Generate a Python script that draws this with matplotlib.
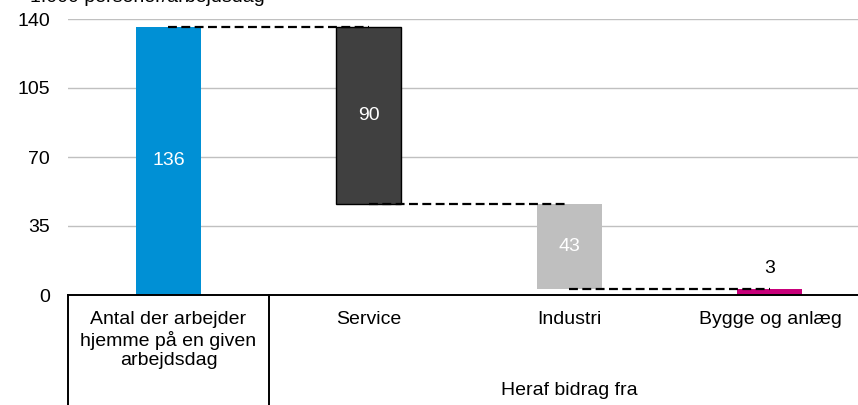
import numpy as np
import matplotlib.pyplot as plt
from matplotlib.lines import Line2D

plt.rcParams['font.family'] = ['Liberation Sans', 'DejaVu Sans']

# data
categories = ["Antal der arbejder\nhjemme på en given\narbejdsdag", "Service", "Industri", "Bygge og anlæg"]
values = [136, 90, 43, 3]
colors = ["#0090d5", "#404040", "#bfbfbf", "#c8007a"]
label_colors = ["white", "white", "white", "black"]
yticks = [0, 35, 70, 105, 140]
group_label = "Heraf bidrag fra"
unit_label = "1.000 personer/arbejdsdag"

# waterfall: total first, then the parts stepping down
tops = [values[0]]
bottoms = [0]
level = values[0]
for v in values[1:]:
    tops.append(level)
    level -= v
    bottoms.append(level)

fs = 14
fig = plt.figure(figsize=(8.58, 4.05), dpi=100)
ax = fig.add_axes([68 / 858, 110 / 405, 790 / 858, 276 / 405])

x = np.arange(len(values))
w = 0.324
for i in x:
    edge = "black" if i == 1 else colors[i]
    ax.bar(i, tops[i] - bottoms[i], bottom=bottoms[i], width=w, color=colors[i],
           edgecolor=edge, linewidth=1 if i == 1 else 0, zorder=2)
    if i < len(values) - 1:
        ax.text(i, (tops[i] + bottoms[i]) / 2, str(values[i]), ha="center", va="center",
                color=label_colors[i], fontsize=fs, zorder=4)
    else:
        ax.text(i, tops[i] + 6, str(values[i]), ha="center", va="bottom",
                color=label_colors[i], fontsize=fs, zorder=4)

# connectors between bar centres
for i in range(len(values) - 1):
    lvl = tops[i + 1] if i == 0 else bottoms[i]
    ax.plot([i, i + 1], [lvl, lvl], ls=(0, (4, 2)), color="black", lw=1.6, zorder=3)

ax.set_xlim(-0.501, 3.439)
ax.set_ylim(0, 140)
ax.set_yticks(yticks)
ax.tick_params(axis="y", length=0, labelsize=fs, pad=13)
ax.yaxis.grid(True, color="#c0c0c0", lw=1)
ax.set_axisbelow(True)
ax.set_xticks([])
for s in ["top", "right", "left"]:
    ax.spines[s].set_visible(False)
ax.spines["bottom"].set_linewidth(1.4)

# category labels and separators below the axis
for i, c in enumerate(categories):
    ax.text(i, -8, c, ha="center", va="top", fontsize=fs, linespacing=1.2,
            clip_on=False)
for xs in [-0.501, 0.5]:
    ax.add_line(Line2D([xs, xs], [0, -56], color="black", lw=1.4, clip_on=False))
ax.text(2.0, -48.5, group_label, ha="center", va="center", fontsize=fs, clip_on=False)

# unit label sits at the very top edge, as in the source
fig.text(30 / 858, 1 - 2 / 405, unit_label, ha="left", va="baseline", fontsize=fs)

fig.savefig("out.png", dpi=100)
